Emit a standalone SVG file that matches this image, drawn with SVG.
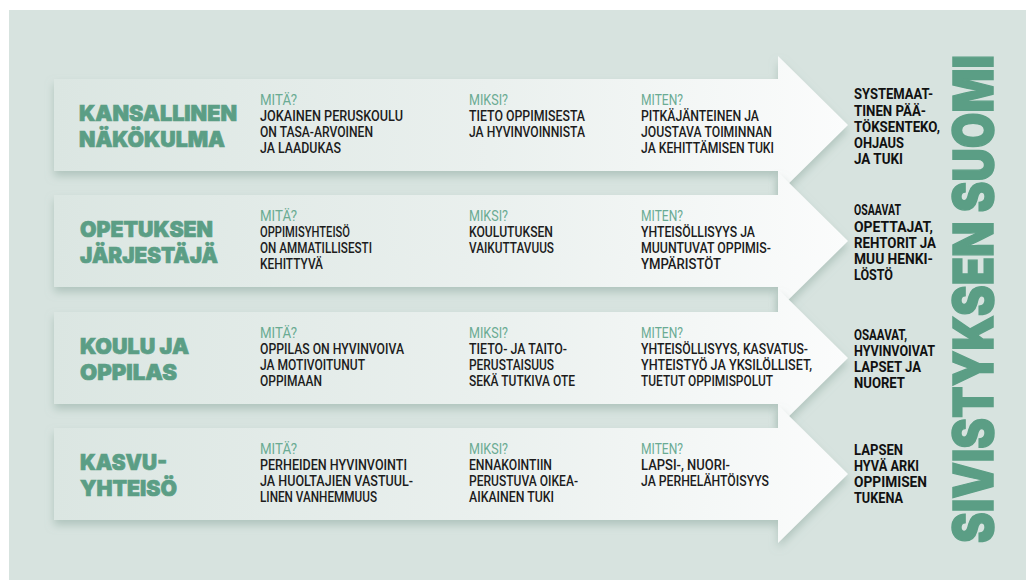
<svg xmlns="http://www.w3.org/2000/svg" width="1026" height="580" viewBox="0 0 1026 580">
<defs>
<linearGradient id="arrowFill" x1="54" y1="0" x2="848" y2="0" gradientUnits="userSpaceOnUse">
<stop offset="0" stop-color="#dbe6e2"/>
<stop offset="0.55" stop-color="#eaf0ee"/>
<stop offset="1" stop-color="#fbfcfc"/>
</linearGradient>
<filter id="shadow" x="-5%" y="-20%" width="110%" height="150%">
<feDropShadow dx="0" dy="5" stdDeviation="4.5" flood-color="#90aba1" flood-opacity="0.55"/>
</filter>
<path id="arrowShape" d="M54 -46 H778 V-69 L848 0 L778 69 V46 H54 Z"/>
</defs>
<style>
.title{font-family:Inter,Roboto,Lato,"Liberation Sans",sans-serif;font-weight:900;font-size:22px;fill:#5b9e85;stroke:#5b9e85;stroke-width:0.7px}
.hdr{font-family:Roboto,"Liberation Sans",sans-serif;font-weight:400;font-size:14px;fill:#6aab93}
.txt{font-family:Roboto,"Liberation Sans",sans-serif;font-weight:500;font-size:15px;fill:#1c1c1c}
.res{font-family:Roboto,"Liberation Sans",sans-serif;font-weight:700;font-size:14px;fill:#111}
.big{font-family:Inter,Roboto,Lato,"Liberation Sans",sans-serif;font-weight:900;font-size:55px;fill:#5b9e85;stroke:#5b9e85;stroke-width:1.5px}
.arrow{fill:url(#arrowFill);filter:url(#shadow)}
</style>
<rect x="0" y="0" width="1026" height="580" fill="#ffffff"/>
<rect x="9" y="10" width="1017" height="570" fill="#d7e3df"/>

<g id="row1" transform="translate(0,125)">
<use href="#arrowShape" class="arrow"/>
<text class="title" x="79" y="-4" textLength="158" lengthAdjust="spacingAndGlyphs">KANSALLINEN</text>
<text class="title" x="79" y="21.5" textLength="146" lengthAdjust="spacingAndGlyphs">NÄKÖKULMA</text>
<text class="hdr" x="260" y="-20" textLength="37" lengthAdjust="spacingAndGlyphs">MITÄ?</text>
<text class="txt" x="260" y="-4" textLength="143" lengthAdjust="spacingAndGlyphs">JOKAINEN PERUSKOULU</text>
<text class="txt" x="260" y="12" textLength="113" lengthAdjust="spacingAndGlyphs">ON TASA-ARVOINEN</text>
<text class="txt" x="260" y="28" textLength="81" lengthAdjust="spacingAndGlyphs">JA LAADUKAS</text>
<text class="hdr" x="469" y="-20" textLength="39" lengthAdjust="spacingAndGlyphs">MIKSI?</text>
<text class="txt" x="469" y="-4" textLength="116" lengthAdjust="spacingAndGlyphs">TIETO OPPIMISESTA</text>
<text class="txt" x="469" y="12" textLength="116" lengthAdjust="spacingAndGlyphs">JA HYVINVOINNISTA</text>
<text class="hdr" x="641" y="-20" textLength="42" lengthAdjust="spacingAndGlyphs">MITEN?</text>
<text class="txt" x="641" y="-4" textLength="118" lengthAdjust="spacingAndGlyphs">PITKÄJÄNTEINEN JA</text>
<text class="txt" x="641" y="12" textLength="131" lengthAdjust="spacingAndGlyphs">JOUSTAVA TOIMINNAN</text>
<text class="txt" x="641" y="28" textLength="133" lengthAdjust="spacingAndGlyphs">JA KEHITTÄMISEN TUKI</text>
<text class="res" x="854" y="-26" textLength="79" lengthAdjust="spacingAndGlyphs">SYSTEMAAT-</text>
<text class="res" x="854" y="-9.5" textLength="72" lengthAdjust="spacingAndGlyphs">TINEN PÄÄ-</text>
<text class="res" x="854" y="6.5" textLength="86" lengthAdjust="spacingAndGlyphs">TÖKSENTEKO,</text>
<text class="res" x="854" y="22.5" textLength="50" lengthAdjust="spacingAndGlyphs">OHJAUS</text>
<text class="res" x="854" y="39" textLength="49" lengthAdjust="spacingAndGlyphs">JA TUKI</text>
</g>

<g id="row2" transform="translate(0,241)">
<use href="#arrowShape" class="arrow"/>
<text class="title" x="80" y="-4" textLength="133" lengthAdjust="spacingAndGlyphs">OPETUKSEN</text>
<text class="title" x="80" y="21.5" textLength="138" lengthAdjust="spacingAndGlyphs">JÄRJESTÄJÄ</text>
<text class="hdr" x="260" y="-20" textLength="37" lengthAdjust="spacingAndGlyphs">MITÄ?</text>
<text class="txt" x="260" y="-4" textLength="90" lengthAdjust="spacingAndGlyphs">OPPIMISYHTEISÖ</text>
<text class="txt" x="260" y="12" textLength="112" lengthAdjust="spacingAndGlyphs">ON AMMATILLISESTI</text>
<text class="txt" x="260" y="28" textLength="63" lengthAdjust="spacingAndGlyphs">KEHITTYVÄ</text>
<text class="hdr" x="469" y="-20" textLength="39" lengthAdjust="spacingAndGlyphs">MIKSI?</text>
<text class="txt" x="469" y="-4" textLength="84" lengthAdjust="spacingAndGlyphs">KOULUTUKSEN</text>
<text class="txt" x="469" y="12" textLength="85" lengthAdjust="spacingAndGlyphs">VAIKUTTAVUUS</text>
<text class="hdr" x="641" y="-20" textLength="42" lengthAdjust="spacingAndGlyphs">MITEN?</text>
<text class="txt" x="641" y="-4" textLength="114" lengthAdjust="spacingAndGlyphs">YHTEISÖLLISYYS JA</text>
<text class="txt" x="641" y="12" textLength="130" lengthAdjust="spacingAndGlyphs">MUUNTUVAT OPPIMIS-</text>
<text class="txt" x="641" y="28" textLength="80" lengthAdjust="spacingAndGlyphs">YMPÄRISTÖT</text>
<text class="res" x="854" y="-26" textLength="47" lengthAdjust="spacingAndGlyphs">OSAAVAT</text>
<text class="res" x="854" y="-9.5" textLength="79" lengthAdjust="spacingAndGlyphs">OPETTAJAT,</text>
<text class="res" x="854" y="6.5" textLength="82" lengthAdjust="spacingAndGlyphs">REHTORIT JA</text>
<text class="res" x="854" y="22.5" textLength="79" lengthAdjust="spacingAndGlyphs">MUU HENKI-</text>
<text class="res" x="854" y="39" textLength="39" lengthAdjust="spacingAndGlyphs">LÖSTÖ</text>
</g>

<g id="row3" transform="translate(0,358)">
<use href="#arrowShape" class="arrow"/>
<text class="title" x="80" y="-4" textLength="109" lengthAdjust="spacingAndGlyphs">KOULU JA</text>
<text class="title" x="80" y="21.5" textLength="97" lengthAdjust="spacingAndGlyphs">OPPILAS</text>
<text class="hdr" x="260" y="-20" textLength="37" lengthAdjust="spacingAndGlyphs">MITÄ?</text>
<text class="txt" x="260" y="-4" textLength="144" lengthAdjust="spacingAndGlyphs">OPPILAS ON HYVINVOIVA</text>
<text class="txt" x="260" y="12" textLength="105" lengthAdjust="spacingAndGlyphs">JA MOTIVOITUNUT</text>
<text class="txt" x="260" y="28" textLength="62" lengthAdjust="spacingAndGlyphs">OPPIMAAN</text>
<text class="hdr" x="469" y="-20" textLength="39" lengthAdjust="spacingAndGlyphs">MIKSI?</text>
<text class="txt" x="469" y="-4" textLength="98" lengthAdjust="spacingAndGlyphs">TIETO- JA TAITO-</text>
<text class="txt" x="469" y="12" textLength="85" lengthAdjust="spacingAndGlyphs">PERUSTAISUUS</text>
<text class="txt" x="469" y="28" textLength="106" lengthAdjust="spacingAndGlyphs">SEKÄ TUTKIVA OTE</text>
<text class="hdr" x="641" y="-20" textLength="42" lengthAdjust="spacingAndGlyphs">MITEN?</text>
<text class="txt" x="641" y="-4" textLength="167" lengthAdjust="spacingAndGlyphs">YHTEISÖLLISYYS, KASVATUS-</text>
<text class="txt" x="641" y="12" textLength="171" lengthAdjust="spacingAndGlyphs">YHTEISTYÖ JA YKSILÖLLISET,</text>
<text class="txt" x="641" y="28" textLength="132" lengthAdjust="spacingAndGlyphs">TUETUT OPPIMISPOLUT</text>
<text class="res" x="854" y="-18" textLength="53" lengthAdjust="spacingAndGlyphs">OSAAVAT,</text>
<text class="res" x="854" y="-2" textLength="81" lengthAdjust="spacingAndGlyphs">HYVINVOIVAT</text>
<text class="res" x="854" y="14" textLength="67" lengthAdjust="spacingAndGlyphs">LAPSET JA</text>
<text class="res" x="854" y="30" textLength="51" lengthAdjust="spacingAndGlyphs">NUORET</text>
</g>

<g id="row4" transform="translate(0,474)">
<use href="#arrowShape" class="arrow"/>
<text class="title" x="80" y="-4" textLength="87" lengthAdjust="spacingAndGlyphs">KASVU-</text>
<text class="title" x="80" y="21.5" textLength="97" lengthAdjust="spacingAndGlyphs">YHTEISÖ</text>
<text class="hdr" x="260" y="-20" textLength="37" lengthAdjust="spacingAndGlyphs">MITÄ?</text>
<text class="txt" x="260" y="-4" textLength="147" lengthAdjust="spacingAndGlyphs">PERHEIDEN HYVINVOINTI</text>
<text class="txt" x="260" y="12" textLength="153" lengthAdjust="spacingAndGlyphs">JA HUOLTAJIEN VASTUUL-</text>
<text class="txt" x="260" y="28" textLength="117" lengthAdjust="spacingAndGlyphs">LINEN VANHEMMUUS</text>
<text class="hdr" x="469" y="-20" textLength="39" lengthAdjust="spacingAndGlyphs">MIKSI?</text>
<text class="txt" x="469" y="-4" textLength="83" lengthAdjust="spacingAndGlyphs">ENNAKOINTIIN</text>
<text class="txt" x="469" y="12" textLength="109" lengthAdjust="spacingAndGlyphs">PERUSTUVA OIKEA-</text>
<text class="txt" x="469" y="28" textLength="85" lengthAdjust="spacingAndGlyphs">AIKAINEN TUKI</text>
<text class="hdr" x="641" y="-20" textLength="42" lengthAdjust="spacingAndGlyphs">MITEN?</text>
<text class="txt" x="641" y="-4" textLength="89" lengthAdjust="spacingAndGlyphs">LAPSI-, NUORI-</text>
<text class="txt" x="641" y="12" textLength="128" lengthAdjust="spacingAndGlyphs">JA PERHELÄHTÖISYYS</text>
<text class="res" x="854" y="-19" textLength="49" lengthAdjust="spacingAndGlyphs">LAPSEN</text>
<text class="res" x="854" y="-3" textLength="65" lengthAdjust="spacingAndGlyphs">HYVÄ ARKI</text>
<text class="res" x="854" y="13" textLength="73" lengthAdjust="spacingAndGlyphs">OPPIMISEN</text>
<text class="res" x="854" y="28.5" textLength="49" lengthAdjust="spacingAndGlyphs">TUKENA</text>
</g>

<g id="title">
<text class="big" transform="translate(993,543) rotate(-90)" x="0" y="0" textLength="488" lengthAdjust="spacingAndGlyphs">SIVISTYKSEN SUOMI</text>
</g>
<g id="connectors"/>
</svg>
